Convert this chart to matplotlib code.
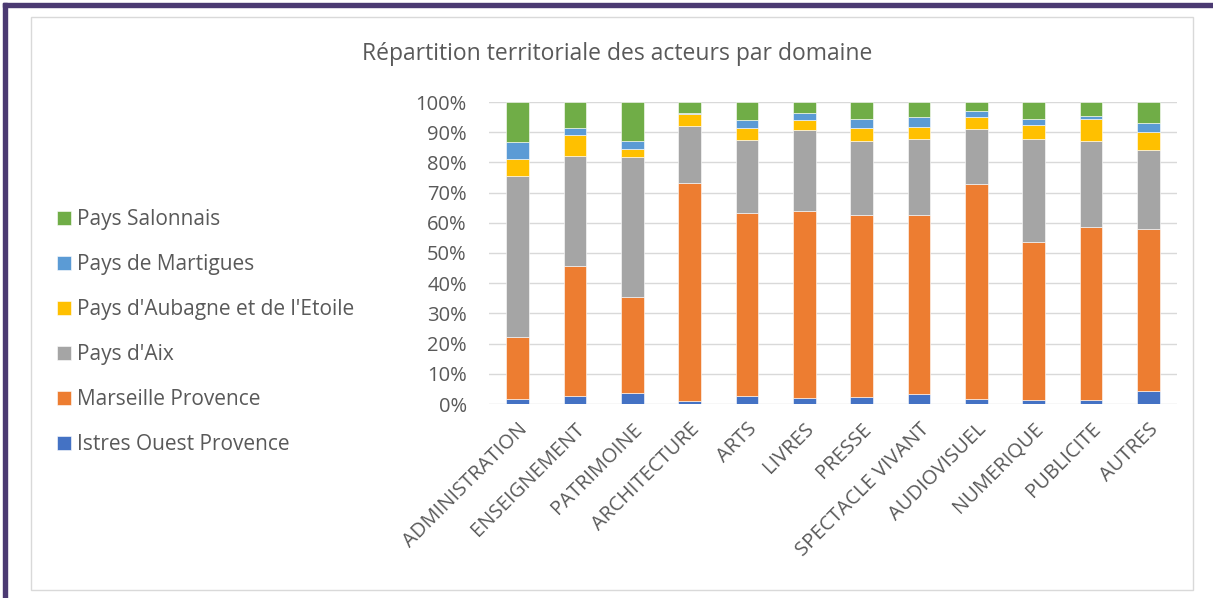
import matplotlib
matplotlib.use("Agg")
import matplotlib.pyplot as plt
from matplotlib.patches import Rectangle
from matplotlib.ticker import PercentFormatter
import numpy as np

categories = ["ADMINISTRATION", "ENSEIGNEMENT", "PATRIMOINE", "ARCHITECTURE", "ARTS",
              "LIVRES", "PRESSE", "SPECTACLE VIVANT", "AUDIOVISUEL", "NUMERIQUE",
              "PUBLICITE", "AUTRES"]

istres = [1.5, 2.8, 3.7, 1.1, 2.8, 2.1, 2.3, 3.3, 1.7, 1.4, 1.3, 4.4]
marseille = [20.8, 43.0, 31.8, 72.0, 60.3, 61.7, 60.2, 59.2, 71.1, 52.4, 57.2, 53.7]
aix = [53.1, 36.3, 46.2, 18.9, 24.3, 26.9, 24.5, 25.2, 18.3, 33.9, 28.7, 26.0]
aubagne = [5.7, 6.9, 2.9, 3.9, 3.9, 3.2, 4.4, 4.1, 3.9, 4.7, 7.2, 5.9]
martigues = [5.7, 2.5, 2.6, 0.6, 2.7, 2.6, 3.1, 3.2, 2.0, 2.0, 1.1, 3.1]
salonnais = [13.2, 8.5, 12.8, 3.5, 6.0, 3.5, 5.5, 5.0, 3.0, 5.6, 4.5, 6.9]

series = [
    ("Istres Ouest Provence", istres, "#4472C4"),
    ("Marseille Provence", marseille, "#ED7D31"),
    ("Pays d'Aix", aix, "#A5A5A5"),
    ("Pays d'Aubagne et de l'Etoile", aubagne, "#FFC000"),
    ("Pays de Martigues", martigues, "#5B9BD5"),
    ("Pays Salonnais", salonnais, "#70AD47"),
]

plt.rcParams["font.family"] = ["Open Sans", "DejaVu Sans"]
txt = "#595959"

fig = plt.figure(figsize=(12.13, 5.98), dpi=100)
ax = fig.add_axes([489 / 1213, 1 - 404 / 598, (1177 - 489) / 1213, (404 - 102) / 598])

# frame around the chart
fig.patches.append(Rectangle((3 / 1213, 0), 4 / 1213, 1 - 3 / 598, transform=fig.transFigure,
                             color="#4B3A72", zorder=0))
fig.patches.append(Rectangle((3 / 1213, 1 - 7 / 598), 1 - 3 / 1213, 4 / 598, transform=fig.transFigure,
                             color="#4B3A72", zorder=0))
fig.patches.append(Rectangle((31 / 1213, 1 - 590 / 598), (1193 - 31) / 1213, (590 - 17) / 598,
                             transform=fig.transFigure, fill=False, edgecolor="#D9D9D9", lw=1, zorder=0))

x = np.arange(len(categories))
bottom = np.zeros(len(categories))
handles = []
for name, vals, col in series:
    vals = np.array(vals)
    b = ax.bar(x, vals, 0.4, bottom=bottom, color=col, edgecolor="white", linewidth=0.4, label=name, zorder=3)
    handles.append(b)
    bottom += vals

ax.set_xlim(-0.5, len(categories) - 0.5)
ax.set_ylim(0, 100)
ax.set_yticks(range(0, 101, 10))
ax.yaxis.set_major_formatter(PercentFormatter(decimals=0))
ax.grid(axis="y", color="#D9D9D9", lw=1, zorder=0)
for s in ax.spines.values():
    s.set_visible(False)
ax.tick_params(length=0, colors=txt, labelsize=14.5)
ax.tick_params(axis="y", pad=16)
ax.tick_params(axis="x", pad=11)
ax.set_xticks(x)
ax.set_xticklabels(categories, rotation=45, ha="right", rotation_mode="anchor")

fig.text(617 / 1213, 1 - 54 / 598, "Répartition territoriale des acteurs par domaine",
         ha="center", va="center", fontsize=16.5, color=txt)

leg = fig.legend(handles[::-1], [s[0] for s in series][::-1], loc="center left",
                 bbox_to_anchor=(57 / 1213, 1 - 332 / 598), frameon=False, fontsize=15,
                 labelcolor=txt, handlelength=0.67, handleheight=0.67, handletextpad=0.3,
                 labelspacing=1.15, borderpad=0, borderaxespad=0)

fig.savefig("out.png", dpi=100)
